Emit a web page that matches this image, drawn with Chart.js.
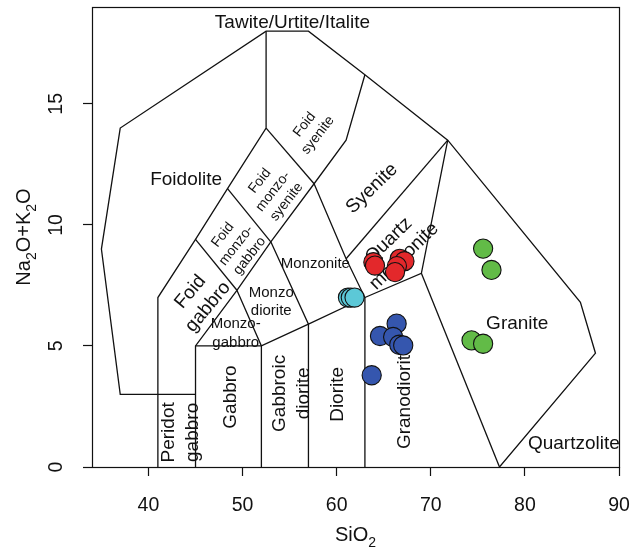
<!DOCTYPE html>
<html><head><meta charset="utf-8">
<script src="https://cdn.jsdelivr.net/npm/chart.js@4/dist/chart.umd.min.js"></script>
<style>html,body{margin:0;padding:0;background:#fff}#wrap{width:633px;height:554px}</style>
</head><body><div id="wrap"><canvas id="c" width="633" height="554"></canvas></div>
<script>
// ---- axis ticks ----
const xTicks = [40, 50, 60, 70, 80, 90];
const yTicks = [0, 5, 10, 15];

// ---- field boundaries (SiO2, Na2O+K2O) ----
const outerBoundary = [[41,3],[37,3],[35,9],[37,14],[52.5,18],[57,18],[63,16.2],[71.8,13.5],[85.9,6.8],[87.5,4.7],[77.3,0]];
const foidLeft      = [[41,0],[41,7],[45,9.4],[48.4,11.5],[52.5,14],[52.5,18]];
const foidRight     = [[45,0],[45,5],[49.4,7.3],[53,9.3],[57.6,11.7],[61,13.5],[63,16.2]];
const peridotTop    = [[41,3],[45,3]];
const foidGabbroTop = [[45,9.4],[49.4,7.3]];
const foidMzgTop    = [[48.4,11.5],[53,9.3]];
const foidMzsTop    = [[52.5,14],[57.6,11.7]];
const baseLine      = [[45,5],[52,5],[57,5.9],[63,7],[69,8],[71.8,13.5]];
const gabbroRight   = [[49.4,7.3],[52,5],[52,0]];
const dioriteLeft   = [[53,9.3],[57,5.9],[57,0]];
const dioriteRight  = [[57.6,11.7],[61,8.6],[63,7],[63,0]];
const qmzTop        = [[61,8.6],[71.8,13.5]];
const graniteLeft   = [[69,8],[77.3,0]];
const boundaries = [outerBoundary, foidLeft, foidRight, peridotTop, foidGabbroTop, foidMzgTop,
                    foidMzsTop, baseLine, gabbroRight, dioriteLeft, dioriteRight, qmzTop, graniteLeft];

// ---- samples ----
const redSiO2   = [63.9, 64.07, 66.7, 67.2, 66.4, 66.2];
const redAlk    = [8.46, 8.32, 8.6, 8.5, 8.3, 8.05];
const cyanSiO2  = [61.2, 61.5, 61.9];
const cyanAlk   = [7.0, 7.0, 7.0];
const blueSiO2  = [66.37, 64.6, 66.0, 66.65, 67.07, 63.72];
const blueAlk   = [5.92, 5.41, 5.37, 5.05, 5.02, 3.79];
const greenSiO2 = [75.56, 76.45, 74.33, 75.56];
const greenAlk  = [9.02, 8.14, 5.23, 5.09];

// ---- field names ----
const fieldNames = ['Tawite/Urtite/Italite','Foidolite','Foid\nsyenite','Foid\nmonzo-\nsyenite','Foid\nmonzo-\ngabbro',
  'Foid\ngabbro','Monzo-\ngabbro','Monzo\ndiorite','Monzonite','Syenite','Quartz\nmonzonite','Gabbro',
  'Peridot\ngabbro','Gabbroic\ndiorite','Diorite','Granodiorite','Granite','Quartzolite'];
const fieldAnchorX = [55.3, 44.0, 57.3, 53.25, 49.33, 45.4, 49.27, 53.05, 57.73, 63.75, 66.35, 48.7, 43.4, 55.25, 60.08, 67.26, 79.19, 85.2];
const fieldAnchorY = [18.34, 11.87, 13.92, 11.38, 9.15, 6.92, 5.54, 6.84, 8.40, 11.5, 9.03, 2.89, 1.43, 3.04, 3.0, 2.9, 5.9, 0.97];

// styles for the field names
const FONT = "'Liberation Sans', Arial, Helvetica, sans-serif";
const fieldStyle = [
  {s:19,r:0},{s:19,r:0},{s:14,r:-52,lh:17},{s:14,r:-52,lh:17},{s:14,r:-52,lh:17},
  {s:19,r:-50,lh:23},{s:15,r:0,lh:19},{s:15,r:0,lh:18},{s:15,r:0},{s:19,r:-44},{s:19,r:-44,lh:22},{s:19,r:-90},
  {s:19,r:-90,lh:24},{s:19,r:-90,lh:24},{s:19,r:-90},{s:19,r:-90},{s:19,r:0},{s:19,r:0}
];

const pts = (xs, ys) => xs.map((x, i) => ({x, y: ys[i]}));
const lineDatasets = boundaries.map(b => ({
  type: 'scatter', data: b.map(p => ({x: p[0], y: p[1]})), showLine: true,
  borderColor: '#111', borderWidth: 1.3, pointRadius: 0, tension: 0, order: 5
}));
const pointDs = (xs, ys, col) => ({
  type: 'scatter', data: pts(xs, ys), backgroundColor: col, borderColor: '#111',
  borderWidth: 1.1, pointRadius: 9.6, pointHoverRadius: 9.6, order: 1
});

function drawRich(ctx, parts, size) {
  const subSize = size * 0.7;
  let total = 0;
  parts.forEach(p => { ctx.font = (p[1] ? subSize : size) + 'px ' + FONT; total += ctx.measureText(p[0]).width; });
  let x = -total / 2;
  ctx.textAlign = 'left'; ctx.textBaseline = 'alphabetic';
  parts.forEach(p => {
    ctx.font = (p[1] ? subSize : size) + 'px ' + FONT;
    ctx.fillText(p[0], x, p[1] ? size * 0.28 : 0);
    x += ctx.measureText(p[0]).width;
  });
}

const decor = {
  id: 'decor',
  beforeDatasetsDraw(chart) {
    const ctx = chart.ctx, xs = chart.scales.x, ys = chart.scales.y;
    ctx.save();
    ctx.fillStyle = '#111';
    fieldNames.forEach((t, i) => {
      const st = fieldStyle[i];
      const px = xs.getPixelForValue(fieldAnchorX[i]);
      const py = ys.getPixelForValue(fieldAnchorY[i]);
      const lines = t.split('\n');
      const lh = st.lh || st.s * 1.2;
      ctx.save();
      ctx.translate(px, py);
      ctx.rotate(st.r * Math.PI / 180);
      ctx.font = st.s + 'px ' + FONT;
      ctx.textAlign = 'center'; ctx.textBaseline = 'middle';
      lines.forEach((ln, k) => ctx.fillText(ln, 0, (k - (lines.length - 1) / 2) * lh));
      ctx.restore();
    });
    ctx.restore();
  },
  afterDraw(chart) {
    const ctx = chart.ctx, a = chart.chartArea, ys = chart.scales.y;
    ctx.save();
    ctx.strokeStyle = '#111'; ctx.lineWidth = 1.2;
    ctx.strokeRect(Math.round(a.left) + 0.5, Math.round(a.top) + 0.5, Math.round(a.right - a.left), Math.round(a.bottom - a.top));
    ctx.fillStyle = '#111';
    ctx.font = '19.5px ' + FONT;
    yTicks.forEach(v => {
      ctx.save();
      ctx.translate(57, ys.getPixelForValue(v));
      ctx.rotate(-Math.PI / 2);
      ctx.textAlign = 'center'; ctx.textBaseline = 'middle';
      ctx.fillText(String(v), 0, 0);
      ctx.restore();
    });
    ctx.save();
    ctx.translate((a.left + a.right) / 2, 541);
    drawRich(ctx, [['SiO', 0], ['2', 1]], 20);
    ctx.restore();
    ctx.save();
    ctx.translate(30, (a.top + a.bottom) / 2);
    ctx.rotate(-Math.PI / 2);
    drawRich(ctx, [['Na', 0], ['2', 1], ['O+K', 0], ['2', 1], ['O', 0]], 20);
    ctx.restore();
    ctx.restore();
  }
};

new Chart(document.getElementById('c'), {
  type: 'scatter',
  data: {
    datasets: [
      ...lineDatasets,
      pointDs(redSiO2, redAlk, '#E3282B'),
      pointDs(cyanSiO2, cyanAlk, '#5CC8D7'),
      pointDs(blueSiO2, blueAlk, '#3556AE'),
      pointDs(greenSiO2, greenAlk, '#62BB47')
    ]
  },
  options: {
    responsive: false, animation: false, devicePixelRatio: 1,
    layout: {autoPadding: false, padding: {top: 7, right: 14, left: 0, bottom: 0}},
    plugins: {legend: {display: false}, tooltip: {enabled: false}},
    scales: {
      x: {
        type: 'linear', min: 34, max: 90,
        afterBuildTicks: s => { s.ticks = xTicks.map(v => ({value: v})); },
        afterFit: s => { s.height = 87; s.paddingLeft = 0; s.paddingRight = 0; s.paddingTop = 0; s.paddingBottom = 0; },
        border: {display: false},
        grid: {drawOnChartArea: false, drawTicks: true, tickLength: 9, color: '#111', tickWidth: 1.2},
        ticks: {font: {family: FONT, size: 19.5}, color: '#111', padding: 18, maxRotation: 0, autoSkip: false}
      },
      y: {
        type: 'linear', min: 0, max: 19,
        afterBuildTicks: s => { s.ticks = yTicks.map(v => ({value: v})); },
        afterFit: s => { s.width = 92; s.paddingLeft = 0; s.paddingRight = 0; s.paddingTop = 0; s.paddingBottom = 0; },
        border: {display: false},
        grid: {drawOnChartArea: false, drawTicks: true, tickLength: 9, color: '#111', tickWidth: 1.2},
        ticks: {display: false}
      }
    }
  },
  plugins: [decor]
});
</script></body></html>
